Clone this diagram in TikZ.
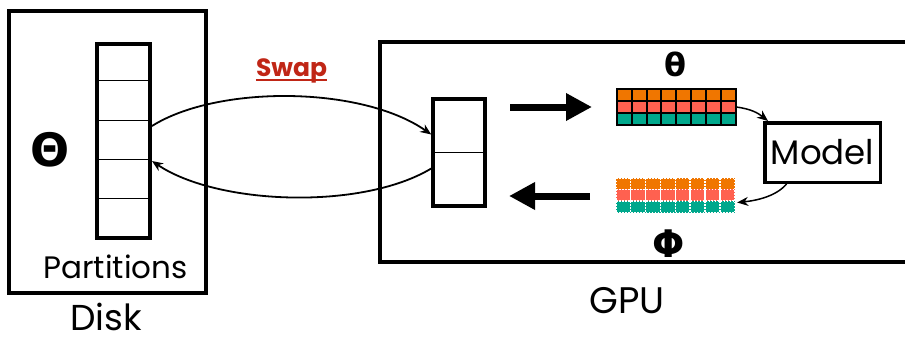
\documentclass[tikz,border=0pt]{standalone}
\usepackage{fontspec}
\setmainfont{Poppins}
\newfontfamily\greekfont{DejaVu Sans}
\usetikzlibrary{arrows.meta,positioning}
\definecolor{swapred}{RGB}{192,38,22}
\definecolor{cellorange}{RGB}{240,118,0}
\definecolor{cellsalmon}{RGB}{255,97,80}
\definecolor{cellteal}{RGB}{0,168,140}
\tikzset{
    frame/.style={draw, line width=4pt},
    slot/.style={draw, line width=3.5pt, inner sep=0pt},
    caption/.style={anchor=base, inner sep=0pt, font=\fontsize{#1}{#1}\selectfont},
    greek/.style={inner sep=0pt, font=\greekfont\bfseries\fontsize{#1}{#1}\selectfont},
    swaparrow/.style={line width=1.8pt, -{Stealth[length=11pt,width=9pt]}},
    bigarrow/.style={line width=7pt, -{Triangle[length=26pt,width=26pt]}},
    grid/.style={minimum width=119pt, minimum height=36pt, inner sep=0pt}
}

\begin{document}
\begin{tikzpicture}[x=1pt, y=-1pt]
\useasboundingbox (0,0) rectangle (905,337);
% disk and gpu frames
\draw[frame] (9,11) rectangle (206,293);
\begin{scope}
    \clip (0,0) rectangle (905,337);
    \draw[frame] (379.5,42.5) rectangle (915,261.5);
\end{scope}

% partitions on disk
\node[slot, line width=4pt, minimum width=53pt, minimum height=194pt] (parts) at (123.5,141) {};
\foreach \i in {1,...,4}{
    \draw[line width=1pt] ([shift={(0,\i*39)}]parts.north west) -- ([shift={(0,\i*39)}]parts.north east);
}
\node[greek=46] (bigtheta) at (50,150) {Θ};
\node[caption=31] (partlbl) at (115.5,278) {Partitions};
\node[caption=36] (disklbl) at (106,330) {Disk};
\node[caption=37] (gpulbl) at (627,313) {GPU};

% buffer on the gpu
\node[slot, minimum width=52pt, minimum height=107pt] (buf) at (459,152.5) {};
\draw[line width=1pt] (buf.west) -- (buf.east);

% swap arrows
\node[caption=25, text=swapred, font=\bfseries\fontsize{25}{25}\selectfont] (swap) at (291.5,77) {Swap};
\draw[swapred, line width=1.6pt] ([yshift=-3pt]swap.base west) -- ([yshift=-3pt]swap.base east);
\draw[swaparrow] ([yshift=15pt]parts.east) .. controls +(65,-41) and +(-70,-49) .. ([yshift=18pt]buf.west);
\draw[swaparrow] ([yshift=-16pt]buf.west) .. controls +(-70,42) and +(65,44) .. ([yshift=-20pt]parts.east);

% theta and phi
\node[grid] (theta) at (676.5,107) {};
\foreach \c [count=\r from 0] in {cellorange,cellsalmon,cellteal}{
    \foreach \k in {0,...,7}{
        \filldraw[fill=\c, draw=black, line width=2pt] ([shift={(\k*14.875,\r*12)}]theta.north west) rectangle +(14.875,12);
    }
}
\node[greek=32] (thetalbl) at (675.5,64.5) {θ};

\node[grid, minimum height=35pt] (phi) at (675.5,195.5) {};
\foreach \c [count=\r from 0] in {cellorange,cellsalmon,cellteal}{
    \fill[\c] ([shift={(0,\r*11.667)}]phi.north west) rectangle +(119,11.667);
    \foreach \k in {0,...,7}{
        \draw[white, line width=1.5pt, dash pattern=on 1.5pt off 1.5pt] ([shift={(\k*14.875,\r*11.667)}]phi.north west) rectangle +(14.875,11.667);
    }
}
\node[greek=38] (philbl) at (668.5,244) {Φ};

% model
\node[slot, minimum width=115.5pt, minimum height=59.5pt] (model) at (822.5,152.5) {};
\node[caption=34] (modellbl) at (822.5,164) {Model};
\draw[swaparrow, line width=1.5pt] (theta.east) .. controls +(15,2) and +(-10,-8) .. ([xshift=5pt]model.north west);
\draw[swaparrow, line width=1.5pt] ([xshift=-36pt]model.south) .. controls +(-10,12) and +(20,-2) .. ([xshift=2pt,yshift=-7pt]phi.east);

% gpu transfers
\coordinate (inl) at (510,107);
\coordinate (inr) at (592,107);
\coordinate (outr) at (590,196);
\coordinate (outl) at (509,196);
\draw[bigarrow] (inl) -- (inr);
\draw[bigarrow] (outr) -- (outl);
\end{tikzpicture}
\end{document}
